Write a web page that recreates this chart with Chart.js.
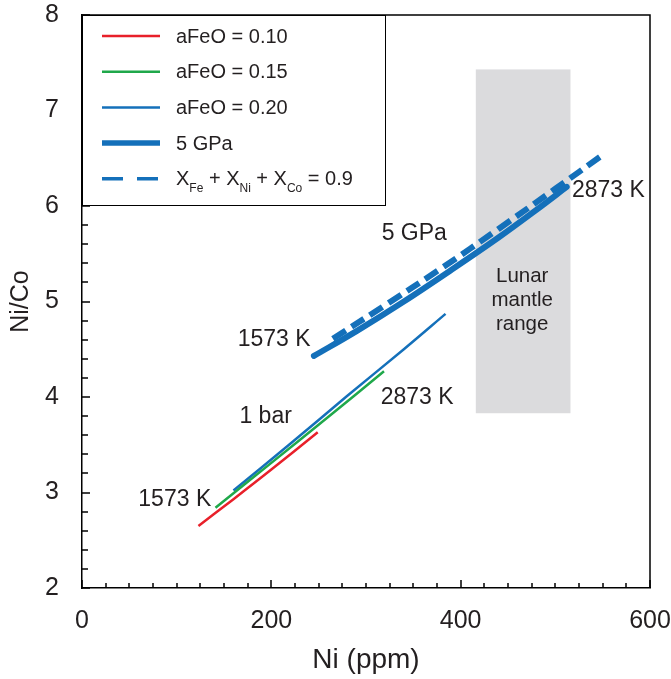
<!DOCTYPE html>
<html><head><meta charset="utf-8">
<script src="https://cdn.jsdelivr.net/npm/chart.js@4/dist/chart.umd.min.js"></script>
<style>html,body{margin:0;padding:0;background:#fff;}</style>
</head><body>
<canvas id="c" width="671" height="679" style="display:block;width:671px;height:679px"></canvas>
<script>
// ---------- data ----------
const xTickLabels = [0, 200, 400, 600];
const yTickLabels = [2, 3, 4, 5, 6, 7, 8];

const seriesNames = ['aFeO = 0.10', 'aFeO = 0.15', 'aFeO = 0.20', '5 GPa', 'X_Fe + X_Ni + X_Co = 0.9'];

const ni_aFeO010   = [123, 160, 200, 249];
const nico_aFeO010 = [2.65, 2.93, 3.24, 3.63];

const ni_aFeO015   = [141, 200, 260, 319];
const nico_aFeO015 = [2.84, 3.31, 3.79, 4.27];

const ni_aFeO020   = [160, 220, 280, 340, 384];
const nico_aFeO020 = [3.02, 3.51, 4.01, 4.50, 4.87];

const ni_5GPa      = [245, 290, 340, 390, 440, 480, 512];
const nico_5GPa    = [4.43, 4.69, 5.00, 5.33, 5.67, 5.96, 6.20];

const ni_Xsum      = [265, 320, 380, 440, 500, 548];
const nico_Xsum    = [4.61, 4.96, 5.35, 5.76, 6.18, 6.52];

const lunarNi   = [416, 516];
const lunarNiCo = [3.83, 7.43];

// text annotations (anchored in data coordinates)
const annotations = [
  { text: ['5 GPa'],  x: 351, y: 5.71, size: 23 },
  { text: ['1573 K'], x: 203, y: 4.60, size: 23 },
  { text: ['2873 K'], x: 556, y: 6.16, size: 23 },
  { text: ['1 bar'],  x: 194, y: 3.79, size: 23 },
  { text: ['2873 K'], x: 354, y: 3.99, size: 23 },
  { text: ['1573 K'], x: 98,  y: 2.93, size: 23 },
  { text: ['Lunar', 'mantle', 'range'], x: 465, y: 5.01, size: 20.5, lh: 24 }
];

// ---------- styles ----------
const FONT = "'Liberation Sans', Arial, Helvetica, sans-serif";
const TXT = '#231F20';
const RED = '#E8202A', GREEN = '#1FA84A', BLUE = '#1470BA';

const pts = (xs, ys) => xs.map((x, i) => ({ x: x, y: ys[i] }));

const datasets = [
  { label: seriesNames[0], data: pts(ni_aFeO010, nico_aFeO010), borderColor: RED,   borderWidth: 2.5, legendWidth: 2.5 },
  { label: seriesNames[1], data: pts(ni_aFeO015, nico_aFeO015), borderColor: GREEN, borderWidth: 2.5, legendWidth: 2.5 },
  { label: seriesNames[2], data: pts(ni_aFeO020, nico_aFeO020), borderColor: BLUE,  borderWidth: 2.5, legendWidth: 2.5 },
  { label: seriesNames[3], data: pts(ni_5GPa, nico_5GPa),       borderColor: BLUE,  borderWidth: 6,   legendWidth: 5.5, borderCapStyle: 'round' },
  { label: seriesNames[4], data: pts(ni_Xsum, nico_Xsum),       borderColor: BLUE,  borderWidth: 6,   legendWidth: 3.5, borderDash: [15, 7], legendDash: [21, 14] }
].map(d => Object.assign({ showLine: true, pointRadius: 0, pointHoverRadius: 0, tension: 0.35, fill: false, backgroundColor: d.borderColor }, d));

// ---------- plugin: background band, ticks, frame, legend, labels ----------
function drawRich(ctx, label, x, y, size) {
  // underscore marks a subscript token
  const parts = label.split(/_(\w+)/);
  let cx = x;
  parts.forEach((p, i) => {
    if (!p) return;
    const sub = i % 2 === 1;
    ctx.font = (sub ? Math.round(size * 0.62) : size) + 'px ' + FONT;
    ctx.fillText(p, cx, sub ? y + size * 0.42 : y);
    cx += ctx.measureText(p).width;
  });
}

const decor = {
  id: 'decor',
  beforeDatasetsDraw(chart) {
    const { ctx, scales: { x, y } } = chart;
    const x0 = x.getPixelForValue(lunarNi[0]), x1 = x.getPixelForValue(lunarNi[1]);
    const y0 = y.getPixelForValue(lunarNiCo[1]), y1 = y.getPixelForValue(lunarNiCo[0]);
    ctx.save();
    ctx.fillStyle = '#DBDBDD';
    ctx.fillRect(x0, y0, x1 - x0, y1 - y0);
    ctx.restore();
  },
  afterDatasetsDraw(chart) {
    const { ctx, chartArea: a, scales: { x, y } } = chart;
    ctx.save();
    // annotations
    ctx.fillStyle = TXT;
    ctx.textAlign = 'center';
    ctx.textBaseline = 'middle';
    annotations.forEach(an => {
      ctx.font = an.size + 'px ' + FONT;
      const px = x.getPixelForValue(an.x), py = y.getPixelForValue(an.y);
      const lh = an.lh || an.size * 1.2;
      an.text.forEach((t, i) => ctx.fillText(t, px, py + (i - (an.text.length - 1) / 2) * lh));
    });
    // frame (top & right)
    ctx.strokeStyle = '#000';
    ctx.lineWidth = 1.5;
    ctx.beginPath();
    ctx.moveTo(a.left, a.top); ctx.lineTo(a.right, a.top); ctx.lineTo(a.right, a.bottom);
    ctx.stroke();
    // inward ticks
    ctx.lineWidth = 1.5;
    ctx.beginPath();
    for (let i = 0; i <= 24; i++) {
      const v = i * 25, px = Math.round(x.getPixelForValue(v));
      const len = (i % 8 === 0) ? 8 : 5;
      ctx.moveTo(px, a.bottom); ctx.lineTo(px, a.bottom - len);
    }
    for (let i = 0; i <= 30; i++) {
      const v = 2 + i * 0.2, py = Math.round(y.getPixelForValue(v));
      const len = (i % 5 === 0) ? 8 : 6;
      ctx.moveTo(a.left, py); ctx.lineTo(a.left + len, py);
    }
    ctx.stroke();
    // legend box
    const L = a.left, T = a.top, W = 304, H = 191;
    ctx.fillStyle = '#fff';
    ctx.fillRect(L, T, W, H);
    ctx.strokeStyle = '#000';
    ctx.lineWidth = 1;
    ctx.strokeRect(L + 0.5, T + 0.5, W - 1, H - 1);
    ctx.textAlign = 'left';
    ctx.textBaseline = 'middle';
    chart.data.datasets.forEach((d, i) => {
      const ry = T + 21 + i * 35.7;
      ctx.save();
      ctx.strokeStyle = d.borderColor;
      ctx.lineWidth = d.legendWidth;
      ctx.setLineDash(d.legendDash || []);
      ctx.beginPath();
      ctx.moveTo(L + 20, ry); ctx.lineTo(L + 78, ry);
      ctx.stroke();
      ctx.restore();
      ctx.fillStyle = TXT;
      drawRich(ctx, d.label, L + 94, ry + 1, 20);
    });
    ctx.restore();
  }
};

new Chart(document.getElementById('c'), {
  type: 'scatter',
  data: { datasets: datasets },
  options: {
    responsive: false,
    animation: false,
    events: [],
    layout: { padding: { top: 15, right: 21, left: 0, bottom: 0 } },
    plugins: { legend: { display: false }, tooltip: { enabled: false } },
    scales: {
      x: {
        type: 'linear', min: 0, max: 600,
        afterBuildTicks: s => { s.ticks = xTickLabels.map(v => ({ value: v })); },
        afterFit: s => { s.height = 91; s.paddingLeft = 0; s.paddingRight = 0; },
        ticks: { color: TXT, padding: 18, maxRotation: 0, font: { family: FONT, size: 25 } },
        grid: { display: false, drawTicks: false },
        border: { display: true, color: '#000', width: 1.5 },
        title: { display: true, text: 'Ni (ppm)', color: TXT, font: { family: FONT, size: 28 }, padding: { top: 0, bottom: 2 } }
      },
      y: {
        type: 'linear', min: 2, max: 8,
        afterBuildTicks: s => { s.ticks = yTickLabels.map(v => ({ value: v })); },
        afterFit: s => { s.width = 82; s.paddingTop = 0; s.paddingBottom = 0; },
        ticks: { color: TXT, padding: 23, font: { family: FONT, size: 25 } },
        grid: { display: false, drawTicks: false },
        border: { display: true, color: '#000', width: 1.5 },
        title: { display: true, text: 'Ni/Co', color: TXT, font: { family: FONT, size: 25 }, padding: { top: 6, bottom: 0 } }
      }
    }
  },
  plugins: [decor]
});
</script>
</body></html>
